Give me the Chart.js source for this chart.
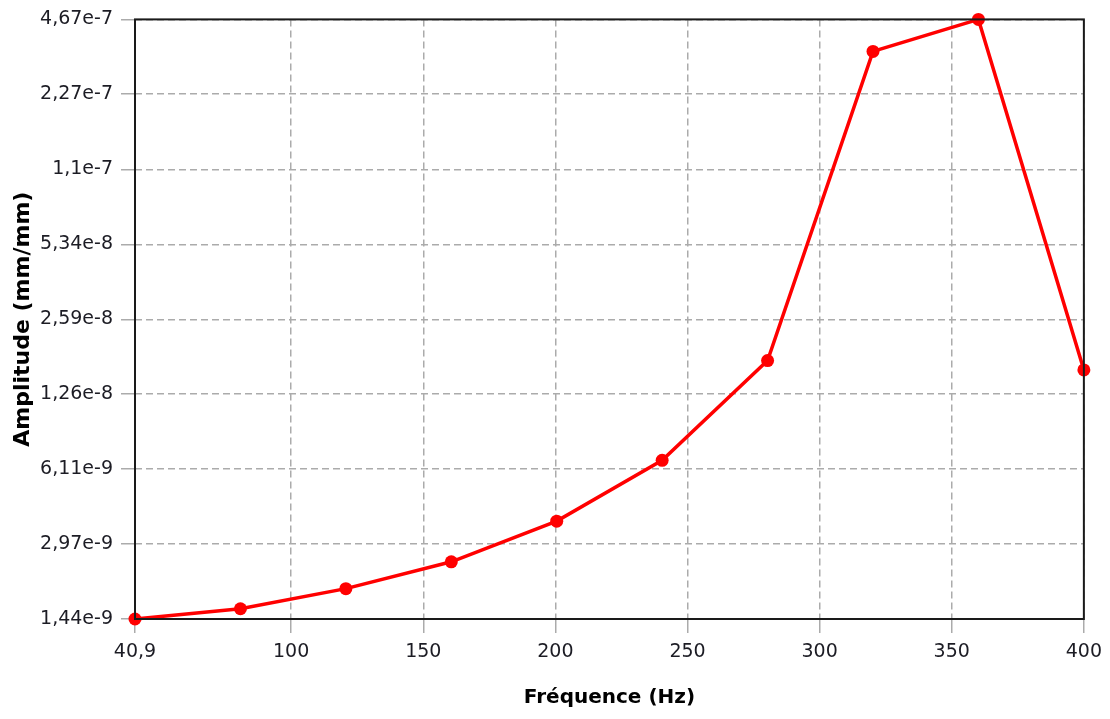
<!DOCTYPE html>
<html>
<head>
<meta charset="utf-8">
<title>Amplitude / Fréquence</title>
<script src="https://cdn.jsdelivr.net/npm/chart.js@4/dist/chart.umd.min.js"></script>
<style>
  html, body { margin: 0; padding: 0; background: #ffffff; }
  #wrap { position: relative; width: 1110px; height: 719px; }
</style>
</head>
<body>
<div id="wrap"><canvas id="ampChart"></canvas></div>
<script>
(function () {
  'use strict';

  // Frequency sweep (Hz) and measured amplitude (mm/mm)
  var frequencies = [40.9, 80.8, 120.7, 160.6, 200.5, 240.4, 280.3, 320.2, 360.1, 400];
  var amplitudes = [1.44e-9, 1.59e-9, 1.93e-9, 2.50e-9, 3.70e-9, 6.65e-9, 1.74e-8, 3.43e-7, 4.67e-7, 1.59e-8];

  // Axis ticks and their printed labels (comma decimals)
  var xTicks = [40.9, 100, 150, 200, 250, 300, 350, 400];
  var xTickLabels = ['40,9', '100', '150', '200', '250', '300', '350', '400'];
  var yTicks = [1.44e-9, 2.97e-9, 6.11e-9, 1.26e-8, 2.59e-8, 5.34e-8, 1.1e-7, 2.27e-7, 4.67e-7];
  var yTickLabels = ['1,44e-9', '2,97e-9', '6,11e-9', '1,26e-8', '2,59e-8', '5,34e-8', '1,1e-7', '2,27e-7', '4,67e-7'];

  var FONT = "'DejaVu Sans', Tahoma, sans-serif";
  var TEXT = '#1c1c24';
  var GRID = '#ababab';

  Chart.defaults.font.family = FONT;
  Chart.defaults.color = TEXT;

  function labelFor(ticks, labels) {
    return function (value) {
      for (var i = 0; i < ticks.length; i++) {
        if (Math.abs(value - ticks[i]) <= Math.abs(ticks[i]) * 1e-6) return labels[i];
      }
      return '';
    };
  }

  // Black frame around the plotting area
  var frame = {
    id: 'frame',
    afterDatasetsDraw: function (chart) {
      var a = chart.chartArea, ctx = chart.ctx;
      ctx.save();
      ctx.strokeStyle = '#1a1a1a';
      ctx.lineWidth = 2;
      ctx.strokeRect(a.left, a.top, a.right - a.left, a.bottom - a.top);
      ctx.restore();
    }
  };

  var points = frequencies.map(function (f, i) { return { x: f, y: amplitudes[i] }; });

  new Chart(document.getElementById('ampChart').getContext('2d'), {
    type: 'line',
    data: {
      datasets: [{
        data: points,
        borderColor: '#ff0000',
        backgroundColor: '#ff0000',
        borderWidth: 3.5,
        tension: 0,
        pointRadius: 6.5,
        pointHoverRadius: 6.5,
        pointBorderWidth: 0,
        pointBackgroundColor: '#ff0000',
        clip: false
      }]
    },
    plugins: [frame],
    options: {
      responsive: true,
      maintainAspectRatio: false,
      animation: false,
      layout: { padding: { top: 18, right: 25, left: 0, bottom: 0 } },
      plugins: {
        legend: { display: false },
        tooltip: { enabled: false }
      },
      scales: {
        x: {
          type: 'linear',
          min: 40.9,
          max: 400,
          afterBuildTicks: function (scale) {
            scale.ticks = xTicks.map(function (v) { return { value: v }; });
          },
          afterFit: function (scale) { scale.height = 100; },
          ticks: {
            autoSkip: false,
            maxRotation: 0,
            padding: 8,
            color: TEXT,
            font: { size: 19 },
            callback: labelFor(xTicks, xTickLabels)
          },
          grid: {
            color: GRID,
            lineWidth: 1.5,
            tickLength: 14,
            tickBorderDash: []
          },
          border: { display: false, dash: [7, 4] },
          title: {
            display: true,
            text: 'Fréquence (Hz)',
            color: '#000000',
            font: { size: 20, weight: 'bold' },
            padding: { top: 0, bottom: 9 }
          }
        },
        y: {
          type: 'logarithmic',
          min: 1.44e-9,
          max: 4.67e-7,
          afterBuildTicks: function (scale) {
            scale.ticks = yTicks.map(function (v) { return { value: v }; });
          },
          afterFit: function (scale) { scale.width = 135; },
          ticks: {
            autoSkip: false,
            padding: 8,
            color: TEXT,
            font: { size: 19 },
            callback: labelFor(yTicks, yTickLabels)
          },
          grid: {
            color: GRID,
            lineWidth: 1.5,
            tickLength: 14,
            tickBorderDash: []
          },
          border: { display: false, dash: [7, 4] },
          title: {
            display: true,
            text: 'Amplitude (mm/mm)',
            color: '#000000',
            font: { size: 22, weight: 'bold' },
            padding: { top: 10, bottom: 0 }
          }
        }
      }
    }
  });
})();
</script>
</body>
</html>
